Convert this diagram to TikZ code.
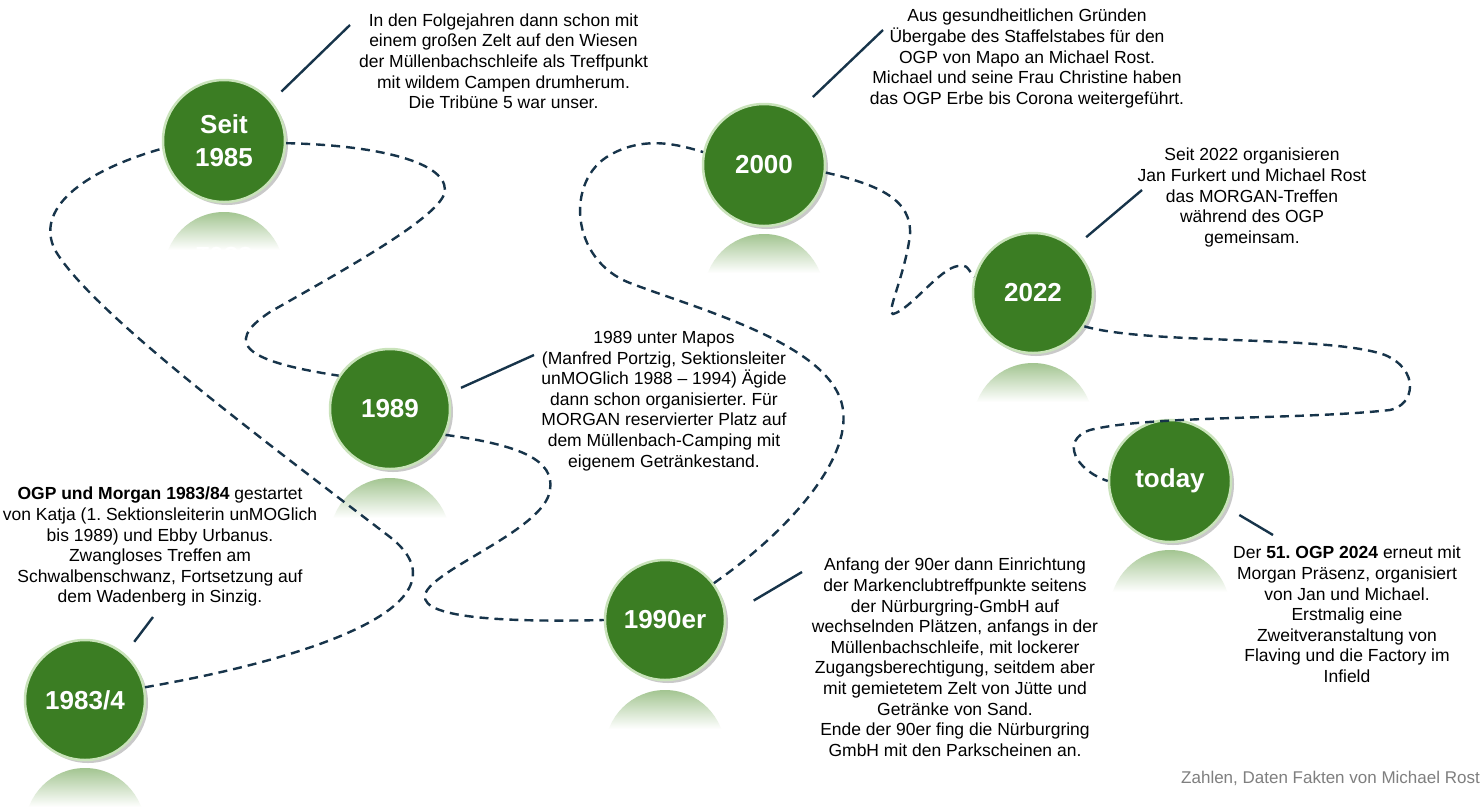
\documentclass[tikz,border=0pt]{standalone}
\usepackage{fontspec}
\setmainfont{Liberation Sans}
\usetikzlibrary{shadows}
\definecolor{milegreen}{HTML}{3B7D23}
\definecolor{rimgreen}{HTML}{C9E3BA}
\definecolor{reflgreen}{HTML}{A3C591}
\definecolor{roadline}{HTML}{17344A}
\definecolor{notegray}{HTML}{7F7F7F}
\tikzset{
  milestone/.style={circle, fill=milegreen, draw=rimgreen, line width=2.5pt,
    minimum size=120pt, inner sep=0pt, text=white, align=center,
    font=\bfseries\fontsize{26}{33}\selectfont,
    drop shadow={shadow xshift=3pt, shadow yshift=-3pt, opacity=0.35, fill=black!60}},
  road/.style={draw=roadline, line width=2.4pt, dash pattern=on 9pt off 6pt},
  pointer/.style={draw=roadline, line width=2.4pt},
  note/.style={align=center, anchor=north, inner sep=0pt,
    font=\frenchspacing\fontsize{17.5}{20.6}\selectfont},
}
% faded mirror image below a milestone: centre x, top y, bottom cut y
\newcommand{\mirrordisc}[3]{%
  \begin{scope}
    \clip (#1,#2+60) circle (60);
    \shade[top color=reflgreen, bottom color=white] (#1-61,#2) rectangle (#1+61,#3);
  \end{scope}}
\begin{document}
\frenchspacing
\begin{tikzpicture}[x=1pt,y=-1pt]
\path[fill=white, use as bounding box] (0,0) rectangle (1484,807);

% reflections
\mirrordisc{224}{212}{250}
\begin{scope}
  \clip (163,212) rectangle (285,250);
  \begin{scope}[shift={(224,256)}, yscale=-1]
    \node[transform shape, text=white, font=\bfseries\fontsize{26}{33}\selectfont] at (0,0) {1985};
  \end{scope}
\end{scope}
\mirrordisc{390}{478}{518}
\mirrordisc{85}{768}{807}
\mirrordisc{665}{690}{729}
\mirrordisc{764}{234}{273}
\mirrordisc{1033}{363}{402}
\mirrordisc{1170}{550}{592}

% milestones
\node[milestone, minimum size=122pt] (c85) at (224,141) {Seit\\1985};
\node[milestone] (c89) at (390,409) {1989};
\node[milestone] (c83) at (85,700) {1983/4};
\node[milestone] (c90) at (665,620) {1990er};
\node[milestone, minimum size=122pt] (c00) at (764,165) {2000};
\node[milestone] (c22) at (1033,293) {2022};
\node[milestone, minimum size=122pt] (ctd) at (1170,481) {today};

% the winding road between the milestones
\draw[road] (c83.12) .. controls (330,655) and (470,600) .. (390,537)
  .. controls (250,430) and (90,310) .. (55,250)
  .. controls (35,210) and (80,172) .. (c85.187);
\draw[road] (c85.358) .. controls (370,145) and (445,160) .. (445,190)
  .. controls (445,215) and (340,272) .. (270,312)
  .. controls (220,345) and (250,362) .. (c89.147);
\draw[road] (c89.335) .. controls (520,445) and (555,460) .. (550,490)
  .. controls (545,530) and (430,570) .. (425,595)
  .. controls (420,620) and (520,622) .. (c90.180);
\draw[road] (c90.37) .. controls (790,530) and (850,460) .. (843,410)
  .. controls (835,345) and (700,310) .. (630,283)
  .. controls (570,260) and (565,180) .. (610,155)
  .. controls (645,135) and (680,145) .. (c00.168);
\draw[road] (c00.353) .. controls (880,185) and (912,200) .. (910,235)
  .. controls (905,275) and (885,315) .. (893,314)
  .. controls (910,310) and (940,268) .. (958,266)
  .. controls (966,265) .. (c22.165);
\draw[road] (c22.327) .. controls (1150,345) and (1330,335) .. (1385,355)
  .. controls (1420,370) and (1415,405) .. (1390,410)
  .. controls (1300,420) and (1150,415) .. (1090,430)
  .. controls (1060,440) and (1075,470) .. (ctd.180);

% notes
\node[note] (t85) at (503.5,13.5) {In den Folgejahren dann schon mit\\einem großen Zelt auf den Wiesen\\der Müllenbachschleife als Treffpunkt\\mit wildem Campen drumherum.\\Die Tribüne 5 war unser.};
\node[note] (t00) at (1027,9) {Aus gesundheitlichen Gründen\\Übergabe des Staffelstabes für den\\OGP von Mapo an Michael Rost.\\Michael und seine Frau Christine haben\\das OGP Erbe bis Corona weitergeführt.};
\node[note] (t22) at (1252,148) {Seit 2022 organisieren\\Jan Furkert und Michael Rost\\das MORGAN-Treffen\\während des OGP\\gemeinsam.};
\node[note] (t89) at (664,331) {1989 unter Mapos\\(Manfred Portzig, Sektionsleiter\\unMOGlich 1988 – 1994) Ägide\\dann schon organisierter. Für\\MORGAN reservierter Platz auf\\dem Müllenbach-Camping mit\\eigenem Getränkestand.};
\node[note] (t83) at (160,487) {\textbf{OGP und Morgan 1983/84} gestartet\\von Katja (1. Sektionsleiterin unMOGlich\\bis 1989) und Ebby Urbanus.\\Zwangloses Treffen am\\Schwalbenschwanz, Fortsetzung auf\\dem Wadenberg in Sinzig.};
\node[note] (t90) at (955,558) {Anfang der 90er dann Einrichtung\\der Markenclubtreffpunkte seitens\\der Nürburgring-GmbH auf\\wechselnden Plätzen, anfangs in der\\Müllenbachschleife, mit lockerer\\Zugangsberechtigung, seitdem aber\\mit gemietetem Zelt von Jütte und\\Getränke von Sand.\\Ende der 90er fing die Nürburgring\\GmbH mit den Parkscheinen an.};
\node[note] (ttd) at (1347,546) {Der \textbf{51. OGP 2024} erneut mit\\Morgan Präsenz, organisiert\\von Jan und Michael.\\Erstmalig eine\\Zweitveranstaltung von\\Flaving und die Factory im\\Infield};
\node[anchor=base east, inner sep=0pt, text=notegray, font=\fontsize{17}{20}\selectfont] (src) at (1480,783) {Zahlen, Daten Fakten von Michael Rost};

% pointers from milestones to their notes
\coordinate (p85) at (350,25);
\coordinate (p00) at (883,30);
\coordinate (p22) at (1142,190);
\coordinate (p89) at (534,355);
\coordinate (p83) at (153,617);
\coordinate (p90) at (802,572);
\coordinate (ptd) at (1273,535);
\draw[pointer, shorten <=13.5pt] (c85.40.6) -- (p85);
\draw[pointer, shorten <=22pt] (c00.58.2) -- (p00);
\draw[pointer, shorten <=16pt] (c22.48.3) -- (p22);
\draw[pointer, shorten <=13pt] (c89.15) -- (p89);
\draw[pointer, shorten <=15pt] (c83.49.8) -- (p83);
\draw[pointer, shorten <=32pt] (c90.3.9) -- (p90);
\draw[pointer, shorten <=15pt] (ctd.-25.8) -- (ptd);
\end{tikzpicture}
\end{document}
